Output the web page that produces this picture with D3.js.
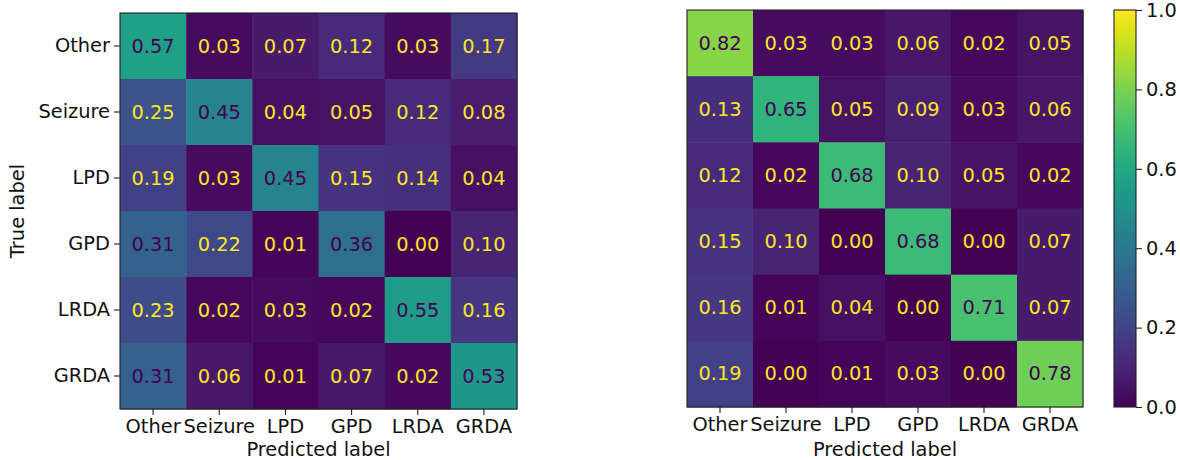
<!DOCTYPE html>
<html>
<head>
<meta charset="utf-8">
<script src="https://cdn.jsdelivr.net/npm/d3@7"></script>
<style>
  html, body { margin: 0; padding: 0; background: #ffffff; }
  svg { display: block; }
  text { font-family: "DejaVu Sans", sans-serif; }
</style>
</head>
<body>
<svg id="chart" width="1180" height="460"></svg>
<script>
// Class labels shared by both matrices
const classes = ["Other", "Seizure", "LPD", "GPD", "LRDA", "GRDA"];

// Row-normalised confusion matrix, first model (rows = true, cols = predicted)
const matrixA = [
  [0.57, 0.03, 0.07, 0.12, 0.03, 0.17],
  [0.25, 0.45, 0.04, 0.05, 0.12, 0.08],
  [0.19, 0.03, 0.45, 0.15, 0.14, 0.04],
  [0.31, 0.22, 0.01, 0.36, 0.00, 0.10],
  [0.23, 0.02, 0.03, 0.02, 0.55, 0.16],
  [0.31, 0.06, 0.01, 0.07, 0.02, 0.53]
];

// Row-normalised confusion matrix, second model
const matrixB = [
  [0.82, 0.03, 0.03, 0.06, 0.02, 0.05],
  [0.13, 0.65, 0.05, 0.09, 0.03, 0.06],
  [0.12, 0.02, 0.68, 0.10, 0.05, 0.02],
  [0.15, 0.10, 0.00, 0.68, 0.00, 0.07],
  [0.16, 0.01, 0.04, 0.00, 0.71, 0.07],
  [0.19, 0.00, 0.01, 0.03, 0.00, 0.78]
];

// Colour bar ticks
const colorbarTicks = [0.0, 0.2, 0.4, 0.6, 0.8, 1.0];

const svg = d3.select("#chart");
const fontSize = 19.4;
const frameColor = "#222";
const color = d3.scaleSequential(d3.interpolateViridis).domain([0, 1]);

function drawMatrix(data, box, showY) {
  const g = svg.append("g");
  const x = d3.scaleBand().domain(classes).range([box.x0, box.x1]);
  const y = d3.scaleBand().domain(classes).range([box.y0, box.y1]);
  const flat = data.flat();
  // value text switches between the two colormap ends at the mid value
  const thresh = (d3.max(flat) + d3.min(flat)) / 2;

  const cells = [];
  data.forEach((row, i) => row.forEach((v, j) => cells.push({ t: classes[i], p: classes[j], v })));

  g.selectAll("rect.cell").data(cells).join("rect")
    .attr("class", "cell")
    .attr("x", d => x(d.p))
    .attr("y", d => y(d.t))
    .attr("width", x.bandwidth() + 0.5)
    .attr("height", y.bandwidth() + 0.5)
    .attr("fill", d => color(d.v));

  g.selectAll("text.val").data(cells).join("text")
    .attr("class", "val")
    .attr("x", d => x(d.p) + x.bandwidth() / 2)
    .attr("y", d => y(d.t) + y.bandwidth() / 2)
    .attr("text-anchor", "middle")
    .attr("dominant-baseline", "central")
    .attr("font-size", fontSize)
    .attr("fill", d => d.v >= thresh ? color(0) : color(1))
    .text(d => d.v.toFixed(2));

  // frame
  g.append("rect")
    .attr("x", box.x0).attr("y", box.y0)
    .attr("width", box.x1 - box.x0).attr("height", box.y1 - box.y0)
    .attr("fill", "none").attr("stroke", frameColor).attr("stroke-width", 1.1);

  // bottom axis
  const xAxis = g.append("g")
    .attr("transform", `translate(0,${box.y1})`)
    .call(d3.axisBottom(x).tickSize(6).tickPadding(4));
  xAxis.select(".domain").remove();
  xAxis.selectAll("line").attr("stroke", frameColor).attr("stroke-width", 1.1);
  xAxis.selectAll("text").attr("font-size", fontSize).attr("fill", "#111")
    .attr("font-family", "DejaVu Sans, sans-serif");

  g.append("text")
    .attr("x", (box.x0 + box.x1) / 2)
    .attr("y", 456)
    .attr("text-anchor", "middle")
    .attr("font-size", fontSize)
    .attr("fill", "#111")
    .text("Predicted label");

  if (showY) {
    const yAxis = g.append("g")
      .attr("transform", `translate(${box.x0},0)`)
      .call(d3.axisLeft(y).tickSize(6).tickPadding(4));
    yAxis.select(".domain").remove();
    yAxis.selectAll("line").attr("stroke", frameColor).attr("stroke-width", 1.1);
    yAxis.selectAll("text").attr("font-size", fontSize).attr("fill", "#111")
      .attr("font-family", "DejaVu Sans, sans-serif");

    g.append("text")
      .attr("transform", `translate(${24},${(box.y0 + box.y1) / 2}) rotate(-90)`)
      .attr("text-anchor", "middle")
      .attr("font-size", fontSize)
      .attr("fill", "#111")
      .text("True label");
  }
}

drawMatrix(matrixA, { x0: 120, x1: 517, y0: 13, y1: 409 }, true);
drawMatrix(matrixB, { x0: 687, x1: 1083, y0: 10, y1: 407 }, false);

// Colour bar
const cb = { x0: 1114, x1: 1136, y0: 10, y1: 407 };
const defs = svg.append("defs");
const grad = defs.append("linearGradient")
  .attr("id", "viridis-grad")
  .attr("x1", "0%").attr("y1", "100%").attr("x2", "0%").attr("y2", "0%");
d3.range(0, 1.0001, 0.05).forEach(t => {
  grad.append("stop").attr("offset", `${t * 100}%`).attr("stop-color", color(t));
});
svg.append("rect")
  .attr("x", cb.x0).attr("y", cb.y0)
  .attr("width", cb.x1 - cb.x0).attr("height", cb.y1 - cb.y0)
  .attr("fill", "url(#viridis-grad)")
  .attr("stroke", frameColor).attr("stroke-width", 1.1);

const cbScale = d3.scaleLinear().domain([0, 1]).range([cb.y1, cb.y0]);
const cbAxis = svg.append("g")
  .attr("transform", `translate(${cb.x1},0)`)
  .call(d3.axisRight(cbScale).tickValues(colorbarTicks).tickFormat(d3.format(".1f")).tickSize(6).tickPadding(4));
cbAxis.select(".domain").remove();
cbAxis.selectAll("line").attr("stroke", frameColor).attr("stroke-width", 1.1);
cbAxis.selectAll("text").attr("font-size", fontSize).attr("fill", "#111")
  .attr("font-family", "DejaVu Sans, sans-serif");
</script>
</body>
</html>
